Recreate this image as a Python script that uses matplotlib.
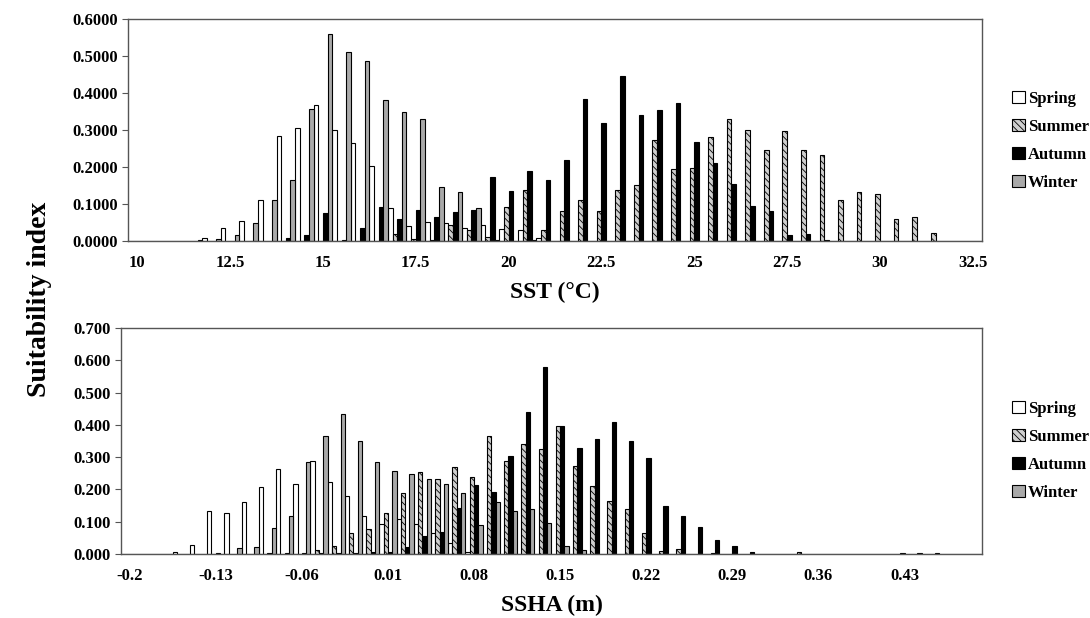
import numpy as np
import matplotlib
matplotlib.use("Agg")
import matplotlib.pyplot as plt
from matplotlib.patches import Patch

plt.rcParams['font.family'] = ['Liberation Serif', 'DejaVu Serif']
plt.rcParams['font.weight'] = 'bold'
plt.rcParams['hatch.color'] = '#3a3a3a'
plt.rcParams['hatch.linewidth'] = 0.6

seasons = ["Spring", "Summer", "Autumn", "Winter"]

# SST bins, 0.5 degC wide, 10 to 32.5
sst_labels = ["10", "12.5", "15", "17.5", "20", "22.5", "25", "27.5", "30", "32.5"]
sst_spring = [0, 0, 0, 0, 0.007, 0.035, 0.055, 0.110, 0.284, 0.306, 0.367, 0.300,
              0.265, 0.202, 0.089, 0.040, 0.051, 0.050, 0.034, 0.043, 0.033, 0.029,
              0.009] + [0] * 23
sst_summer = [0] * 14 + [0.018, 0.006, 0.003, 0.043, 0.030, 0.010, 0.092, 0.139,
                         0.030, 0.082, 0.110, 0.082, 0.137, 0.152, 0.273, 0.194,
                         0.198, 0.281, 0.329, 0.299, 0.246, 0.296, 0.246, 0.232,
                         0.110, 0.132, 0.126, 0.060, 0.065, 0.021] + [0, 0]
sst_autumn = [0] * 8 + [0.009, 0.015, 0.076, 0.004, 0.036, 0.093, 0.059, 0.083,
                        0.065, 0.078, 0.084, 0.174, 0.136, 0.189, 0.164, 0.218,
                        0.385, 0.319, 0.445, 0.340, 0.355, 0.373, 0.268, 0.212,
                        0.154, 0.094, 0.080, 0.015, 0.019, 0.002] + [0] * 8
sst_winter = [0] * 3 + [0.003, 0.005, 0.015, 0.050, 0.110, 0.166, 0.356, 0.560,
                        0.511, 0.487, 0.381, 0.348, 0.330, 0.147, 0.132, 0.088,
                        0.003, 0.0, 0.003] + [0] * 24

# SSHA bins, 0.014 m wide, starting at -0.2
ssha_labels = ["-0.2", "-0.13", "-0.06", "0.01", "0.08", "0.15", "0.22", "0.29",
               "0.36", "0.43"]
ssha_spring = [0] * 3 + [0.005, 0.027, 0.132, 0.126, 0.162, 0.209, 0.263, 0.218,
                         0.288, 0.223, 0.181, 0.119, 0.094, 0.109, 0.093, 0.066,
                         0.033, 0.006] + [0] * 29
ssha_summer = ([0] * 11 + [0.011, 0.026, 0.065, 0.077, 0.128, 0.189, 0.254, 0.232,
                           0.269, 0.240, 0.364, 0.289, 0.342, 0.324, 0.395, 0.274,
                           0.212, 0.165, 0.139, 0.064, 0.010, 0.014]
               + [0, 0.004] + [0] * 4 + [0.005] + [0] * 5 + [0.004] * 3 + [0, 0])
ssha_autumn = [0] * 5 + [0.004, 0, 0] + [0.003, 0.003, 0.003, 0.003, 0.004, 0.004,
                                          0.006, 0.006, 0.021, 0.057, 0.069, 0.144,
                                          0.214, 0.192, 0.303, 0.439, 0.579, 0.395,
                                          0.328, 0.356, 0.409, 0.351, 0.296, 0.148,
                                          0.119, 0.085, 0.042, 0.025, 0.006] + [0] * 13
ssha_winter = [0] * 6 + [0.018, 0.021, 0.080, 0.119, 0.284, 0.364, 0.434, 0.350,
                         0.284, 0.256, 0.249, 0.232, 0.217, 0.189, 0.090, 0.162,
                         0.132, 0.139, 0.096, 0.025, 0.011] + [0] * 23

styles = {
    "Spring": dict(facecolor="white", hatch=None),
    "Summer": dict(facecolor="#cfcfcf", hatch="\\\\\\\\\\"),
    "Autumn": dict(facecolor="black", hatch=None),
    "Winter": dict(facecolor="#a9a9a9", hatch=None),
}


def draw_panel(ax, series, labels, ymax, fmt, xlabel):
    n = len(series[0])
    x = np.arange(n)
    w = 0.25
    for i, (name, vals) in enumerate(zip(seasons, series)):
        vals = np.array(vals, dtype=float)
        st = styles[name]
        ax.bar(x + (i - 1.5) * w, vals, width=w, facecolor=st["facecolor"],
               hatch=st["hatch"], edgecolor="black", linewidth=0.8)
    ax.set_xlim(-0.5, n - 0.5)
    ax.set_ylim(0, ymax)
    ax.set_xticks(np.arange(0, 5 * len(labels), 5))
    ax.set_xticklabels(labels)
    ax.set_yticks(np.arange(0, ymax + 1e-9, 0.1))
    ax.set_yticklabels([fmt % v for v in np.arange(0, ymax + 1e-9, 0.1)])
    ax.tick_params(axis="x", length=0, pad=10, labelsize=12)
    ax.tick_params(axis="y", length=4, width=0.8, labelsize=12, color="#555555")
    for s in ax.spines.values():
        s.set_color("#555555")
        s.set_linewidth(1.0)
    ax.set_xlabel(xlabel, fontsize=17, fontweight="bold", labelpad=8)


fig = plt.figure(figsize=(10.9, 6.18), dpi=100)
ax1 = fig.add_axes([128 / 1090, 1 - 241 / 618, 854 / 1090, 222 / 618])
ax2 = fig.add_axes([121 / 1090, 1 - 554 / 618, 861 / 1090, 226 / 618])

draw_panel(ax1, [sst_spring, sst_summer, sst_autumn, sst_winter], sst_labels,
           0.6, "%.4f", "SST (°C)")
draw_panel(ax2, [ssha_spring, ssha_summer, ssha_autumn, ssha_winter], ssha_labels,
           0.7, "%.3f", "SSHA (m)")

handles = [Patch(facecolor=styles[s]["facecolor"], hatch=styles[s]["hatch"],
                 edgecolor="black", linewidth=0.8, label=s) for s in seasons]
for yc in (1 - 141 / 618, 1 - 451 / 618):
    fig.legend(handles=handles, loc="center left", bbox_to_anchor=(0.921, yc),
               frameon=False, fontsize=12, handlelength=0.75, handleheight=0.75,
               handletextpad=0.2, labelspacing=0.72, borderpad=0)

fig.text(0.036, 0.515, "Suitability index", rotation=90, ha="center",
         va="center", fontsize=20, fontweight="bold")

fig.savefig("out.png", dpi=100)
